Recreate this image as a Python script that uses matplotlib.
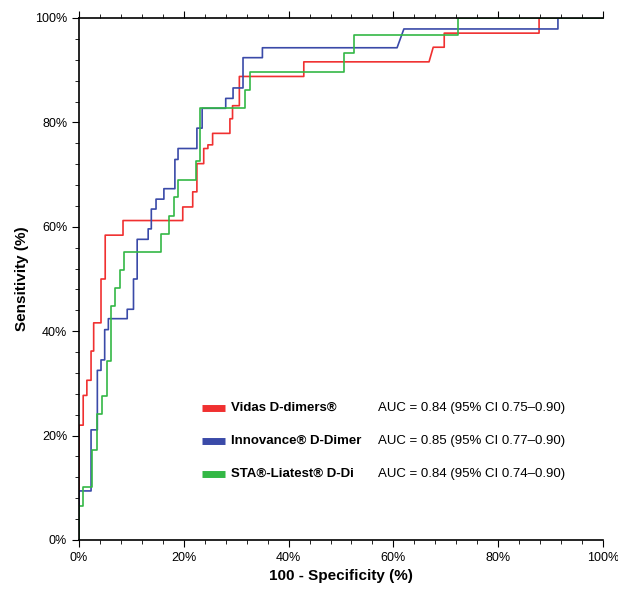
import matplotlib
matplotlib.use('Agg')
import matplotlib.pyplot as plt
from matplotlib.ticker import MultipleLocator, PercentFormatter

plt.rcParams['font.family'] = ['Liberation Sans', 'DejaVu Sans']

# ROC step points (100 - specificity %, sensitivity %)
vidas_x = [0, 0, 0.8, 0.8, 1.5, 1.5, 2.3, 2.3, 2.8, 2.8, 4.2, 4.2, 5.0, 5.0, 8.4, 8.4, 19.8, 19.8, 21.7, 21.7,
           22.5, 22.5, 23.8, 23.8, 24.6, 24.6, 25.5, 25.5, 28.8, 28.8, 29.3, 29.3, 30.6, 30.6, 42.9, 42.9,
           66.8, 67.6, 69.7, 69.7, 87.8, 87.8, 100]
vidas_y = [0, 22, 22, 27.7, 27.7, 30.6, 30.6, 36.2, 36.2, 41.6, 41.6, 50, 50, 58.4, 58.4, 61.2, 61.2, 63.8, 63.8, 66.7,
           66.7, 72.1, 72.1, 75, 75, 75.7, 75.7, 77.9, 77.9, 80.7, 80.7, 83.2, 83.2, 88.8, 88.8, 91.6,
           91.6, 94.4, 94.4, 97.1, 97.1, 100, 100]
inno_x = [0, 0, 2.3, 2.3, 3.5, 3.5, 4.2, 4.2, 4.9, 4.9, 5.6, 5.6, 9.2, 9.2, 10.4, 10.4, 11.1, 11.1, 13.2, 13.2,
          13.8, 13.8, 14.7, 14.7, 16.2, 16.2, 18.3, 18.3, 18.9, 18.9, 22.5, 22.5, 23.5, 23.5, 28.0, 28.0,
          29.4, 29.4, 31.3, 31.3, 35.0, 35.0, 60.7, 62.0, 91.4, 91.4, 100]
inno_y = [0, 9.4, 9.4, 21.1, 21.1, 32.5, 32.5, 34.5, 34.5, 40.3, 40.3, 42.4, 42.4, 44.2, 44.2, 50, 50, 57.6, 57.6, 59.6,
          59.6, 63.4, 63.4, 65.3, 65.3, 67.3, 67.3, 72.9, 72.9, 75, 75, 78.9, 78.9, 82.7, 82.7, 84.6,
          84.6, 86.6, 86.6, 92.4, 92.4, 94.3, 94.3, 97.9, 97.9, 100, 100]
sta_x = [0, 0, 0.8, 0.8, 2.5, 2.5, 3.5, 3.5, 4.4, 4.4, 5.3, 5.3, 6.1, 6.1, 6.8, 6.8, 7.8, 7.8, 8.6, 8.6,
         15.6, 15.6, 17.2, 17.2, 18.2, 18.2, 18.9, 18.9, 22.3, 22.3, 23.1, 23.1, 31.6, 31.6, 32.6, 32.6,
         50.6, 50.6, 52.4, 52.4, 72.3, 72.3, 100]
sta_y = [0, 6.6, 6.6, 10.2, 10.2, 17.2, 17.2, 24.1, 24.1, 27.5, 27.5, 34.3, 34.3, 44.9, 44.9, 48.2, 48.2, 51.8, 51.8, 55.1,
         55.1, 58.6, 58.6, 62, 62, 65.7, 65.7, 69, 69, 72.6, 72.6, 82.7, 82.7, 86.3, 86.3, 89.6,
         89.6, 93.3, 93.3, 96.7, 96.7, 100, 100]

names = ['Vidas D-dimers®', 'Innovance® D-Dimer', 'STA®-Liatest® D-Di']
aucs = ['AUC = 0.84 (95% CI 0.75\u20130.90)', 'AUC = 0.85 (95% CI 0.77\u20130.90)',
        'AUC = 0.84 (95% CI 0.74\u20130.90)']
colors = ['#f03030', '#3a4aa8', '#33b845']

fig = plt.figure(figsize=(6.18, 5.95), dpi=100)
ax = fig.add_axes([79 / 618, 55 / 595, 524 / 618, 522 / 595])

for xs, ys, c in zip([vidas_x, inno_x, sta_x], [vidas_y, inno_y, sta_y], colors):
    ax.plot(xs, ys, color=c, lw=1.2)

ax.set_xlim(0, 100)
ax.set_ylim(0, 100)
ax.spines['right'].set_visible(False)
for s in ['left', 'bottom', 'top']:
    ax.spines[s].set_linewidth(1.2)
ax.xaxis.set_major_locator(MultipleLocator(20))
ax.xaxis.set_minor_locator(MultipleLocator(4))
ax.yaxis.set_major_locator(MultipleLocator(20))
ax.yaxis.set_minor_locator(MultipleLocator(4))
ax.xaxis.set_major_formatter(PercentFormatter(decimals=0))
ax.yaxis.set_major_formatter(PercentFormatter(decimals=0))
ax.tick_params(which='both', direction='out', top=True, labeltop=False, labelsize=9)
ax.tick_params(which='major', length=5)
ax.tick_params(which='minor', length=3)
ax.set_xlabel('100 - Specificity (%)', fontsize=11, fontweight='bold')
ax.set_ylabel('Sensitivity (%)', fontsize=11, fontweight='bold')

# legend drawn by hand
for i, (n, a, c) in enumerate(zip(names, aucs, colors)):
    y = 25.3 - i * 6.3
    ax.plot([23.5, 27.8], [y, y], color=c, lw=5, solid_capstyle='butt')
    ax.text(29.0, y, n, fontsize=9.5, fontweight='bold', va='center')
    ax.text(57, y, a, fontsize=9.5, va='center')

fig.savefig('out.png', dpi=100)
